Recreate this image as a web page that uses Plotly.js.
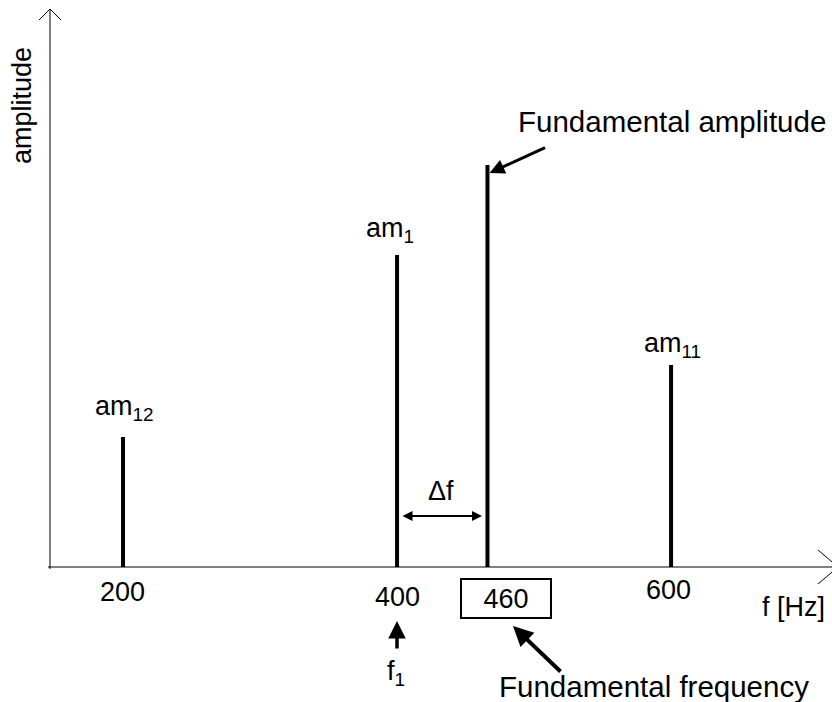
<!DOCTYPE html>
<html>
<head>
<meta charset="utf-8">
<script src="https://cdn.plot.ly/plotly-3.0.1.min.js"></script>
<style>html,body{margin:0;padding:0;background:#fff;}#chart{width:832px;height:702px;}</style>
</head>
<body>
<div id="chart"></div>
<script>
// ---- data ----
const freqPos    = [200, 400, 466, 600];          // position of each spectral line on the axis
const tickText   = ['200', '400', '460', '600'];  // labels under the lines
const amplitudes = [1.30, 3.12, 4.02, 2.02];      // line heights (arbitrary units)
const peakLabels = ['am<sub>12</sub>', 'am<sub>1</sub>', '', 'am<sub>11</sub>'];

// ---- styling helpers ----
const FONT = 'Liberation Sans, Arial, sans-serif';
const W = 832, H = 702, ML = 50, MR = 2, MT = 9, MB = 135;
const PW = W - ML - MR, PH = H - MT - MB;
const px = (x) => (x - ML) / PW;            // pixel -> paper x
const py = (y) => (H - MB - y) / PH;        // pixel -> paper y

// spectral lines
const lx = [], ly = [];
freqPos.forEach((f, i) => { lx.push(f, f, null); ly.push(0, amplitudes[i], null); });
const traces = [{
  type: 'scatter', mode: 'lines', x: lx, y: ly,
  line: {color: '#000', width: 4}, hoverinfo: 'skip', showlegend: false
}];

const annotations = [];
// tick labels
const tickYShift = [-25, -30, -31, -23];
const tickXShift = [-1, 0, 19, -3];
freqPos.forEach((f, i) => {
  const a = {
    x: f, y: 0, xref: 'x', yref: 'y', text: tickText[i], showarrow: false,
    xshift: tickXShift[i], yshift: tickYShift[i], yanchor: 'middle',
    font: {family: FONT, size: 27, color: '#000'}
  };
  if (tickText[i] === '460') {
    a.bordercolor = '#000'; a.borderwidth = 2; a.borderpad = 1; a.width = 86; a.height = 35;
  }
  annotations.push(a);
});
// peak labels
const peakYShift = [29, 25, 0, 20];
const peakXShift = [1, -7, 0, 1];
freqPos.forEach((f, i) => {
  if (!peakLabels[i]) return;
  annotations.push({
    x: f, y: amplitudes[i], xref: 'x', yref: 'y', text: peakLabels[i], showarrow: false,
    xshift: peakXShift[i], yshift: peakYShift[i], yanchor: 'middle',
    font: {family: FONT, size: 27, color: '#000'}
  });
});
// axis titles
annotations.push({xref: 'paper', yref: 'paper', x: px(22), y: py(106), text: 'amplitude',
  textangle: -90, showarrow: false, xanchor: 'center', yanchor: 'middle',
  font: {family: FONT, size: 27, color: '#000'}});
annotations.push({xref: 'paper', yref: 'paper', x: px(793), y: py(607), text: 'f [Hz]',
  showarrow: false, xanchor: 'center', yanchor: 'middle',
  font: {family: FONT, size: 27, color: '#000'}});
// delta f
annotations.push({x: 432, y: 0.76, xref: 'x', yref: 'y', text: '\u0394f', showarrow: false,
  font: {family: FONT, size: 27, color: '#000'}});
annotations.push({x: 462, y: 0.51, xref: 'x', yref: 'y', text: '', showarrow: true,
  ax: -81, ay: 0, arrowside: 'end+start', arrowhead: 2, arrowsize: 1, arrowwidth: 2,
  arrowcolor: '#000', standoff: 0, startstandoff: 0});
// f1 (below the axis: paper-referenced so they are not hidden)
annotations.push({x: px(397), y: py(621), xref: 'paper', yref: 'paper', text: '', showarrow: true,
  ax: 0, ay: 29, arrowhead: 2, arrowsize: 1, arrowwidth: 3.5, arrowcolor: '#000'});
annotations.push({x: px(396), y: py(673), xref: 'paper', yref: 'paper', text: 'f<sub>1</sub>', showarrow: false,
  xanchor: 'center', yanchor: 'middle',
  font: {family: FONT, size: 27, color: '#000'}});
// fundamental amplitude
annotations.push({x: 601, y: 4.46, xref: 'x', yref: 'y', text: 'Fundamental amplitude', showarrow: false,
  font: {family: FONT, size: 29.5, color: '#000'}});
annotations.push({x: 467.5, y: 3.94, xref: 'x', yref: 'y', text: '', showarrow: true,
  ax: 57, ay: -26, arrowhead: 2, arrowsize: 1, arrowwidth: 3, arrowcolor: '#000'});
// fundamental frequency
annotations.push({x: px(654), y: py(686), xref: 'paper', yref: 'paper', text: 'Fundamental frequency', showarrow: false,
  xanchor: 'center', yanchor: 'middle',
  font: {family: FONT, size: 29.5, color: '#000'}});
annotations.push({x: px(513), y: py(626), xref: 'paper', yref: 'paper', text: '', showarrow: true,
  ax: 49, ay: 47, arrowhead: 2, arrowsize: 1, arrowwidth: 4, arrowcolor: '#000'});

// axes drawn as lines with open arrow heads
const ln = {color: '#000', width: 1};
const shapes = [
  {type: 'line', xref: 'paper', yref: 'paper', x0: px(50), y0: py(569), x1: px(50), y1: py(9), line: ln},
  {type: 'line', xref: 'paper', yref: 'paper', x0: px(48), y0: py(567), x1: px(838), y1: py(567), line: ln},
  {type: 'path', xref: 'paper', yref: 'paper', line: ln,
   path: `M${px(39)},${py(20)} L${px(50)},${py(9)} L${px(61)},${py(20)}`},
  {type: 'path', xref: 'paper', yref: 'paper', line: ln,
   path: `M${px(818)},${py(550)} L${px(838)},${py(567)} L${px(818)},${py(584)}`}
];

const layout = {
  width: W, height: H, margin: {l: ML, r: MR, t: MT, b: MB},
  paper_bgcolor: '#fff', plot_bgcolor: '#fff', showlegend: false,
  xaxis: {range: [146.7, 716], visible: false, fixedrange: true},
  yaxis: {range: [0, 5.58], visible: false, fixedrange: true},
  annotations: annotations, shapes: shapes,
  font: {family: FONT, color: '#000'}
};
Plotly.newPlot('chart', traces, layout, {displayModeBar: false, staticPlot: true});
</script>
</body>
</html>
